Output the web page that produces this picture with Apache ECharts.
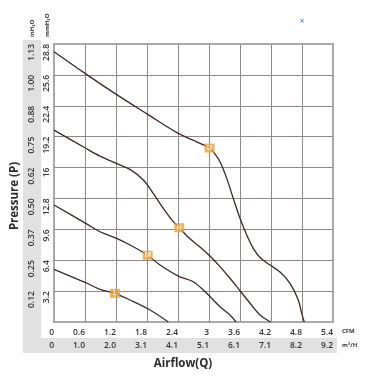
<!DOCTYPE html>
<html>
<head>
<meta charset="utf-8">
<script src="https://cdn.jsdelivr.net/npm/echarts@6/dist/echarts.min.js"></script>
<style>
html,body{margin:0;padding:0;background:#fff;}
#c{width:372px;height:389px;}
</style>
</head>
<body>
<div id="c"></div>
<script>
// Tick labels
const cfmTicks = ['0','0.6','1.2','1.8','2.4','3','3.6','4.2','4.8','5.4'];
const m3hTicks = ['0','1.0','2.0','3.1','4.1','5.1','6.1','7.1','8.2','9.2'];
const mmH2OTicks = ['0','3.2','6.4','9.6','12.8','16','19.2','22.4','25.6','28.8'];
const inH2OTicks = ['0','0.12','0.25','0.37','0.50','0.62','0.75','0.88','1.00','1.13'];

// Curves: [airflow CFM, pressure mmH2O]
const curveU = [[0,28.0],[0.6,25.76],[1.206,23.58],[1.806,21.54],[2.406,19.54],[2.826,18.51],[3.01,18.02],[3.083,17.64],[3.213,16.6],[3.343,14.88],[3.47,12.81],[3.6,10.74],[3.73,9.01],[3.857,7.63],[3.987,6.68],[4.181,5.9],[4.374,5.18],[4.568,4.01],[4.728,2.28],[4.794,0.9],[4.845,0]];
const curveH = [[0,19.88],[0.6,18.05],[0.89,17.19],[1.214,16.41],[1.471,15.81],[1.728,14.71],[1.922,13.33],[2.115,11.77],[2.309,10.39],[2.425,9.77],[2.599,8.77],[2.826,7.77],[3.019,6.83],[3.213,5.73],[3.406,4.53],[3.6,3.24],[3.794,1.94],[3.987,0.72],[4.194,0]];
const curveM = [[0,12.12],[0.614,10.22],[0.89,9.35],[1.214,8.67],[1.535,7.8],[1.814,6.91],[2.052,5.9],[2.406,4.76],[2.696,4.17],[2.955,2.97],[3.213,1.58],[3.406,0.72],[3.523,0]];
const curveL = [[0,5.46],[0.614,4.07],[0.89,3.39],[1.181,2.97],[1.471,2.28],[1.858,1.24],[2.212,0]];

// Speed markers
const markerNames = ['U','H','M','L'];
const markerPoints = [[3.01,18.02],[2.425,9.77],[1.814,6.91],[1.181,2.97]];

const lineColor = '#3a2a26';
const markColor = '#e9a13a';
const font = 'Open Sans';

const chart = echarts.init(document.getElementById('c'), null, {renderer:'canvas'});

function lineSeries(data){
  return {type:'line', data:data, smooth:0.35, symbol:'none', xAxisIndex:0, yAxisIndex:0,
    lineStyle:{color:lineColor, width:1.3}, z:3, silent:true};
}

chart.setOption({
  animation:false,
  backgroundColor:'#ffffff',
  grid:{left:54, right:39, top:44, bottom:67, show:true, borderColor:'#a9a9a9', borderWidth:2},
  xAxis:[
    {type:'value', min:0, max:5.4, interval:0.6, position:'bottom',
     axisLine:{show:false}, axisTick:{show:false},
     splitLine:{show:true, showMinLine:false, showMaxLine:false, lineStyle:{color:'#8e8a8a', width:1}},
     axisLabel:{margin:6, align:'right', fontSize:8.5, fontWeight:600, fontFamily:font, color:'#333',
       formatter:(v,i)=>cfmTicks[Math.round(v/0.6)]}},
    {type:'value', min:0, max:5.4, interval:0.6, position:'bottom', offset:15,
     axisLine:{show:false}, axisTick:{show:false}, splitLine:{show:false},
     axisLabel:{margin:4, align:'right', fontSize:8.5, fontWeight:600, fontFamily:font, color:'#333',
       formatter:(v,i)=>m3hTicks[Math.round(v/0.6)]}}
  ],
  yAxis:[
    {type:'value', min:0, max:28.8, interval:3.2, position:'left',
     axisLine:{show:false}, axisTick:{show:false},
     splitLine:{show:true, showMinLine:false, showMaxLine:false, lineStyle:{color:'#8e8a8a', width:1}},
     axisLabel:{margin:3, rotate:90, align:'right', verticalAlign:'bottom', showMinLabel:false,
       fontSize:8.5, fontWeight:600, fontFamily:font, color:'#333',
       formatter:(v,i)=>mmH2OTicks[Math.round(v/3.2)]}},
    {type:'value', min:0, max:28.8, interval:3.2, position:'left', offset:15,
     axisLine:{show:false}, axisTick:{show:false}, splitLine:{show:false},
     axisLabel:{margin:3, rotate:90, align:'right', verticalAlign:'bottom', showMinLabel:false,
       fontSize:8.5, fontWeight:600, fontFamily:font, color:'#333',
       formatter:(v,i)=>inH2OTicks[Math.round(v/3.2)]}}
  ],
  graphic:[
    {type:'rect', z:-10, shape:{x:23, y:40, width:18, height:313}, style:{fill:'#e1e1e1'}},
    {type:'rect', z:-10, shape:{x:23, y:338, width:314, height:15}, style:{fill:'#e1e1e1'}},
    {type:'text', x:15, y:196, rotation:Math.PI/2, style:{text:'Pressure (P)', fontSize:11.5, fontWeight:'bold', fontFamily:font, fill:'#2b2b2b', align:'center', verticalAlign:'middle'}},
    {type:'text', x:183, y:364, style:{text:'Airflow(Q)', fontSize:11.5, fontWeight:'bold', fontFamily:font, fill:'#2b2b2b', align:'center', verticalAlign:'middle'}},
    {type:'text', x:32.5, y:37, rotation:Math.PI/2, style:{text:'inH₂O', fontSize:6, fontWeight:'bold', fontFamily:font, fill:'#333', align:'left', verticalAlign:'middle'}},
    {type:'text', x:47.5, y:37, rotation:Math.PI/2, style:{text:'mmH₂O', fontSize:6, fontWeight:'bold', fontFamily:font, fill:'#333', align:'left', verticalAlign:'middle'}},
    {type:'text', x:342, y:331, style:{text:'CFM', fontSize:6, fontWeight:'bold', fontFamily:font, fill:'#333', align:'left', verticalAlign:'middle'}},
    {type:'text', x:342, y:345.5, style:{text:'m³/H', fontSize:6, fontWeight:'bold', fontFamily:font, fill:'#333', align:'left', verticalAlign:'middle'}},
    {type:'text', x:302, y:21, style:{text:'×', fontSize:9, fontFamily:font, fill:'#3f6fe8', align:'center', verticalAlign:'middle'}}
  ],
  series:[
    lineSeries(curveU), lineSeries(curveH), lineSeries(curveM), lineSeries(curveL),
    {type:'scatter', xAxisIndex:0, yAxisIndex:0, symbol:'rect', symbolSize:[10,9], z:5, silent:true,
     itemStyle:{color:markColor},
     data:markerPoints.map((p,i)=>({value:p, name:markerNames[i]})),
     label:{show:true, position:'inside', formatter:(p)=>p.name, color:'#fff', fontSize:7, fontWeight:'bold', fontFamily:font}}
  ]
});
</script>
</body>
</html>
